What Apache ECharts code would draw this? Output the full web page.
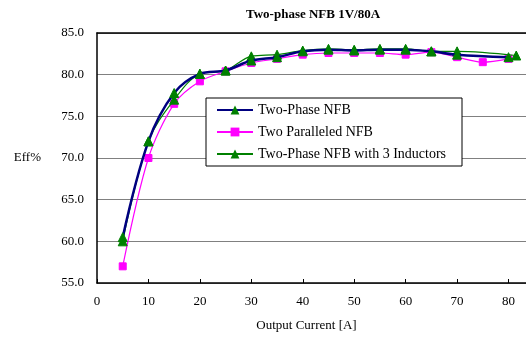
<!DOCTYPE html>
<html>
<head>
<meta charset="utf-8">
<script src="https://cdn.jsdelivr.net/npm/echarts@6/dist/echarts.min.js"></script>
<style>
  html, body { margin: 0; padding: 0; background: #fff; }
  #main { width: 526px; height: 339px; }
</style>
</head>
<body>
<div id="main"></div>
<script>
// output current [A] and efficiency [%] for each curve
var xTwoPhase = [5, 10, 15, 20, 25, 30, 35, 40, 45, 50, 55, 60, 65, 70, 80];
var effTwoPhase = [60.5, 72.0, 77.8, 80.1, 80.5, 81.7, 82.1, 82.8, 83.0, 82.9, 83.0, 83.0, 82.8, 82.4, 82.1];

var xParallel = [5, 10, 15, 20, 25, 30, 35, 40, 45, 50, 55, 60, 65, 70, 75, 80];
var effParallel = [57.0, 70.0, 76.5, 79.2, 80.4, 81.4, 81.9, 82.4, 82.6, 82.6, 82.6, 82.4, 82.7, 82.1, 81.5, 81.9];

var xThreeInd = [5, 10, 15, 20, 25, 30, 35, 40, 45, 50, 55, 60, 65, 70, 81.5];
var effThreeInd = [60.0, 72.0, 77.0, 80.1, 80.5, 82.2, 82.4, 82.9, 83.1, 83.0, 83.1, 83.1, 82.8, 82.8, 82.3];

var seriesNames = ['Two-Phase NFB', 'Two Paralleled NFB', 'Two-Phase NFB with 3 Inductors'];

function pairs(xs, ys) {
  var out = [];
  for (var i = 0; i < xs.length; i++) out.push([xs[i], ys[i]]);
  return out;
}

var font = '"Liberation Serif", "Times New Roman", serif';
var chart = echarts.init(document.getElementById('main'));

chart.setOption({
  animation: false,
  title: {
    text: 'Two-phase NFB 1V/80A',
    left: 241,
    top: 3,
    textStyle: { fontFamily: font, fontSize: 13, fontWeight: 'bold', color: '#000' }
  },
  grid: { left: 97, right: 0, top: 33, bottom: 56 },
  legend: {
    orient: 'vertical',
    left: 206, top: 98,
    padding: [5, 16, 5, 10],
    itemWidth: 36, itemHeight: 11, itemGap: 8,
    backgroundColor: '#fff',
    borderColor: '#000', borderWidth: 1, borderRadius: 0,
    textStyle: { fontFamily: font, fontSize: 14, color: '#000' },
    data: seriesNames
  },
  xAxis: [{
    type: 'value',
    min: 0, max: 83.4, interval: 10,
    name: 'Output Current [A]',
    nameLocation: 'middle',
    nameGap: 36,
    nameTextStyle: { fontFamily: font, fontSize: 13, color: '#000', padding: [0, 0, 0, -10] },
    axisLine: { lineStyle: { color: '#000', width: 1.5 } },
    axisTick: { inside: true, length: 4, lineStyle: { color: '#000' } },
    axisLabel: { fontFamily: font, fontSize: 13, color: '#000', margin: 12, showMaxLabel: false },
    splitLine: { show: false }
  }, {
    // top border of the plot area
    type: 'value',
    position: 'top',
    min: 0, max: 83.4,
    axisLine: { show: true, lineStyle: { color: '#000', width: 1.5 } },
    axisTick: { show: false },
    axisLabel: { show: false },
    splitLine: { show: false }
  }],
  yAxis: {
    type: 'value',
    min: 55, max: 85, interval: 5,
    name: 'Eff%',
    nameLocation: 'middle',
    nameRotate: 0,
    nameGap: 56,
    nameTextStyle: { fontFamily: font, fontSize: 13, color: '#000' },
    axisLine: { show: true, lineStyle: { color: '#000', width: 1.5 } },
    axisTick: { show: false },
    axisLabel: {
      fontFamily: font, fontSize: 13, color: '#000', margin: 13,
      formatter: function (v) { return v.toFixed(1); }
    },
    splitLine: { lineStyle: { color: '#808080', width: 1.2 } }
  },
  series: [
    {
      name: seriesNames[0],
      type: 'line',
      smooth: 0.35,
      data: pairs(xTwoPhase, effTwoPhase),
      symbol: 'triangle', symbolSize: 9,
      z: 4,
      lineStyle: { color: '#000080', width: 2.5 },
      itemStyle: { color: '#008000', borderColor: '#008000' }
    },
    {
      name: seriesNames[1],
      type: 'line',
      smooth: 0.3,
      data: pairs(xParallel, effParallel),
      symbol: 'rect', symbolSize: 7,
      z: 2,
      lineStyle: { color: '#FF00FF', width: 1.2 },
      itemStyle: { color: '#FF00FF', borderColor: '#FF00FF' }
    },
    {
      name: seriesNames[2],
      type: 'line',
      smooth: 0.35,
      data: pairs(xThreeInd, effThreeInd),
      symbol: 'triangle', symbolSize: 9,
      z: 3,
      lineStyle: { color: '#008000', width: 1.2 },
      itemStyle: { color: '#008000', borderColor: '#008000' }
    }
  ]
});
</script>
</body>
</html>
